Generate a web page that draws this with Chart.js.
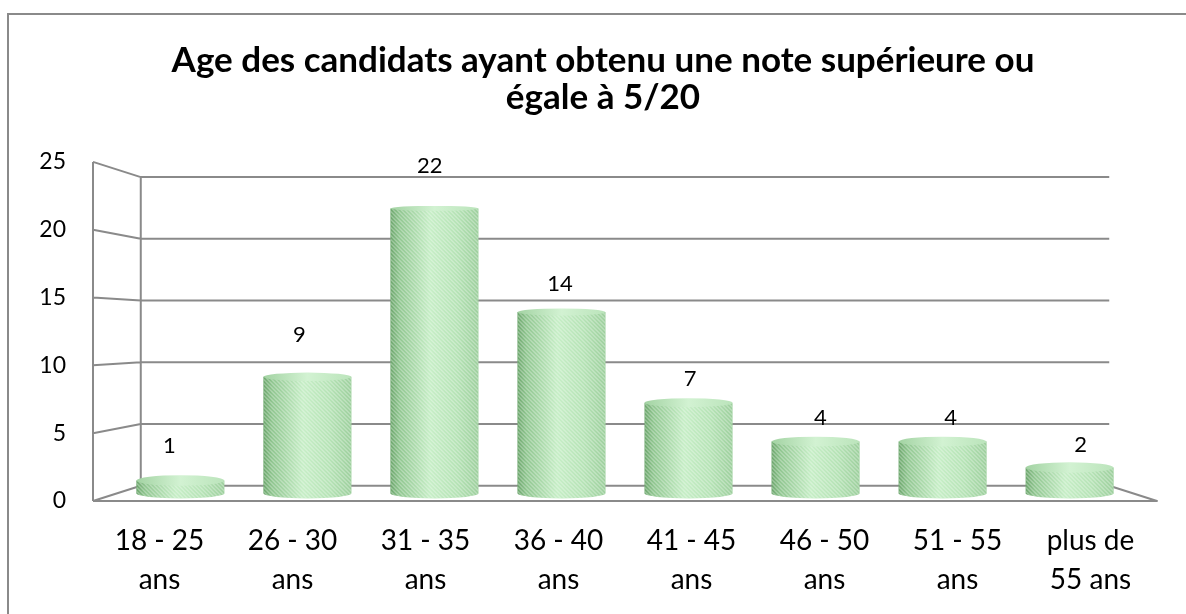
<!DOCTYPE html>
<html>
<head>
<meta charset="utf-8">
<script src="https://cdn.jsdelivr.net/npm/chart.js@4.4.1/dist/chart.umd.min.js"></script>
<style>
  html, body { margin: 0; padding: 0; background: #fff; }
  #cadre { width: 1186px; height: 614px; position: relative; }
</style>
</head>
<body>
<div id="cadre"><canvas id="chartAges"></canvas></div>
<script>
// données
const titre = ['Age des candidats ayant obtenu une note supérieure ou', 'égale à 5/20'];
const tranches = [
    ['18 - 25', 'ans'], ['26 - 30', 'ans'], ['31 - 35', 'ans'], ['36 - 40', 'ans'],
    ['41 - 45', 'ans'], ['46 - 50', 'ans'], ['51 - 55', 'ans'], ['plus de', '55 ans']
];
const candidats = [1, 9, 22, 14, 7, 4, 4, 2];
const graduations = [0, 5, 10, 15, 20, 25];

// rendu 3D (style)
const profondeur = 0.047;          // écart face avant / milieu / fond
const decalEtiquettes = [35, 42, 42, 28, 24, 24, 24, 23];
const gris = '#8a8a8a';
const largeurBarre = 0.69;
const margeTitre = 49;             // le cadre d'origine déborde à droite

const yMin = graduations[0], yMax = graduations[graduations.length - 1];
const yMil = (yMin + yMax) / 2, yDemi = (yMax - yMin) / 2 * (1 + profondeur);
const xMil = (candidats.length - 1) / 2, xDemi = candidats.length / 2 * (1 + profondeur);

function degrade(ctx, x0, x1, stops) {
    if (!isFinite(x0) || !isFinite(x1) || x0 === x1) return stops[2][1];
    const g = ctx.createLinearGradient(x0, 0, x1, 0);
    stops.forEach(([o, c]) => g.addColorStop(o, c));
    return g;
}
const corps = [[0, '#6aa56a'], [0.1, '#8fc68f'], [0.45, '#c6eec6'], [0.75, '#b5e3b5'], [1, '#9ccf9c']];
const dessus = [[0, '#a3d3a3'], [0.5, '#d2f2d2'], [1, '#bbe4bb']];

function bornesBarre(chart, i) {
    const xb = chart.scales.xb;
    if (!xb) return [NaN, NaN];
    const w = (xb.getPixelForValue(1) - xb.getPixelForValue(0)) * largeurBarre;
    const x = xb.getPixelForValue(i);
    return [x - w / 2, x + w / 2];
}

const decor = {
    id: 'decor',
    afterLayout(chart) {
        const t = chart.titleBlock;
        if (t) { t.left = margeTitre; t.width = t.right - t.left; }
    },
    beforeDraw(chart) {
        const c = chart.ctx;
        c.save();
        c.strokeStyle = gris;
        c.lineWidth = 2;
        c.strokeRect(8, 14, chart.width + 20, chart.height + 20);
        c.restore();
    },
    beforeDatasetsDraw(chart) {
        const { ctx: c, chartArea: a, scales } = chart;
        const yf = scales.y, yb = scales.yb, xb = scales.xb;
        const cx = (a.left + a.right) / 2, cy = (a.top + a.bottom) / 2;
        const fond = (p, m) => m + (p - m) * (1 - profondeur);
        const gauche = fond(xb.getPixelForValue(-0.5), cx);
        const droite = fond(xb.getPixelForValue(candidats.length - 0.5), cx);
        c.save();
        c.strokeStyle = gris;
        c.lineWidth = 2;
        c.lineJoin = 'round';
        c.beginPath();
        yf.ticks.forEach(t => {
            const fy = yf.getPixelForValue(t.value);
            const by = fond(yb.getPixelForValue(t.value), cy);
            c.moveTo(a.left, fy);
            c.lineTo(gauche, by);
            c.lineTo(droite, by);
            if (t.value === yMin) {
                c.lineTo(a.right, fy);
                c.lineTo(a.left, fy);
            }
        });
        c.moveTo(a.left, yf.getPixelForValue(yMin));
        c.lineTo(a.left, yf.getPixelForValue(yMax));
        c.moveTo(gauche, fond(yb.getPixelForValue(yMin), cy));
        c.lineTo(gauche, fond(yb.getPixelForValue(yMax), cy));
        c.stroke();
        c.restore();
    },
    afterDatasetsDraw(chart) {
        const { ctx: c, chartArea: a } = chart;
        const cx = (a.left + a.right) / 2;
        const meta = chart.getDatasetMeta(0);
        meta.data.forEach((el, i) => {
            const { x, y, base, width } = el.getProps(['x', 'y', 'base', 'width'], true);
            const l = x - width / 2, r = x + width / 2, rx = width / 2;
            const ryBas = 5;
            const ryHaut = 2 + 3.5 * (y - a.top) / (a.bottom - a.top);
            // corps arrondi + hachures
            c.save();
            c.beginPath();
            c.moveTo(l, y);
            c.lineTo(l, base);
            c.ellipse(x, base, rx, ryBas, 0, Math.PI, 0, true);
            c.lineTo(r, y);
            c.closePath();
            c.fillStyle = degrade(c, l, r, corps);
            c.fill();
            c.clip();
            c.lineWidth = 1.4;
            c.strokeStyle = 'rgba(255,255,255,0.3)';
            c.beginPath();
            const h = base - y + ryBas + 10;
            for (let s = l - h; s < r + 10; s += 4) {
                c.moveTo(s, y - 5);
                c.lineTo(s + h, y - 5 + h);
            }
            c.stroke();
            c.restore();
            // dessus
            c.save();
            c.beginPath();
            c.ellipse(x, y, rx, ryHaut, 0, 0, Math.PI * 2);
            c.fillStyle = degrade(c, l, r, dessus);
            c.fill();
            c.restore();
            // étiquette
            c.save();
            c.font = '22px Lato';
            c.fillStyle = '#000';
            c.textAlign = 'center';
            c.textBaseline = 'middle';
            c.fillText(String(candidats[i]), cx + (x - cx) * 1.025, y - decalEtiquettes[i]);
            c.restore();
        });
    }
};

const ctx = document.getElementById('chartAges').getContext('2d');
const chartAges = new Chart(ctx, {
    type: 'bar',
    data: {
        labels: tranches,
        datasets: [{
            label: 'Candidats',
            data: candidats.map((v, i) => ({ x: i, y: v })),
            xAxisID: 'xb',
            yAxisID: 'yb',
            backgroundColor: (c) => {
                const [l, r] = bornesBarre(c.chart, c.dataIndex);
                return degrade(c.chart.ctx, l, r, corps);
            },
            borderWidth: 0,
            categoryPercentage: 1,
            barPercentage: largeurBarre
        }]
    },
    options: {
        responsive: true,
        maintainAspectRatio: false,
        animation: false,
        layout: { padding: { left: 0, right: 29, top: 0, bottom: 0 } },
        plugins: {
            legend: { display: false },
            tooltip: { enabled: false },
            title: {
                display: true,
                text: titre,
                color: '#000',
                font: { family: 'Lato', size: 35, weight: 'bold', lineHeight: 1.07 },
                padding: { top: 42, bottom: 45 }
            }
        },
        scales: {
            x: {
                type: 'category',
                position: 'bottom',
                offset: true,
                grid: { display: false, drawTicks: false },
                border: { display: false },
                ticks: {
                    color: '#000',
                    padding: 21,
                    maxRotation: 0,
                    autoSkip: false,
                    font: { family: 'Lato', size: 28, lineHeight: 1.375 }
                },
                afterFit: (s) => { s.height = 113; }
            },
            xb: {
                type: 'linear',
                display: false,
                offset: false,
                grid: { offset: false },
                min: xMil - xDemi,
                max: xMil + xDemi,
                afterBuildTicks: (s) => { s.ticks = candidats.map((v, i) => ({ value: i })); }
            },
            y: {
                type: 'linear',
                position: 'left',
                min: yMin,
                max: yMax,
                grid: { display: false, drawTicks: false },
                border: { display: false },
                afterBuildTicks: (s) => { s.ticks = graduations.map(v => ({ value: v })); },
                ticks: {
                    color: '#000',
                    padding: 27,
                    font: { family: 'Lato', size: 23 }
                },
                afterFit: (s) => { s.width = 93; }
            },
            yb: {
                type: 'linear',
                display: false,
                min: yMil - yDemi,
                max: yMil + yDemi
            }
        }
    },
    plugins: [decor]
});
</script>
</body>
</html>
